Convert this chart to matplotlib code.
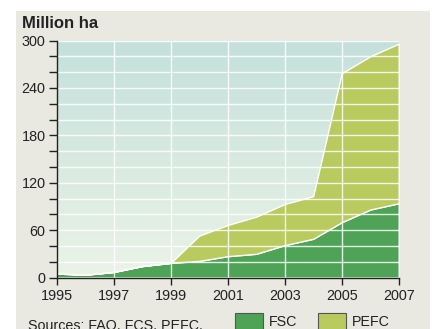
import matplotlib
matplotlib.use("Agg")
import matplotlib.pyplot as plt
import numpy as np
from matplotlib.patches import Rectangle

plt.rcParams['font.family'] = ['Liberation Sans', 'DejaVu Sans']

years = [1995, 1996, 1997, 1998, 1999, 2000, 2001, 2002, 2003, 2004, 2005, 2006, 2007]
fsc = [5, 3.5, 7, 14.5, 18.5, 21, 27, 30, 41, 49, 70, 86, 94]
pefc = [0, 0, 0, 0, 0, 32, 39.5, 47, 52, 54, 188.5, 194, 202]
series_names = ["FSC", "PEFC"]
xticks = [1995, 1997, 1999, 2001, 2003, 2005, 2007]
yticks = [0, 60, 120, 180, 240, 300]

c_fsc = "#4fa356"
c_pefc = "#b9cb5f"
panel_bg = "#e9e9e1"

W, H = 433, 329
fig = plt.figure(figsize=(W / 100, H / 100), dpi=100)
fig.patch.set_facecolor("white")

# beige panel behind everything
fig.patches.append(Rectangle((16 / W, 0), (430 - 16) / W, 1 - 11 / H,
                             transform=fig.transFigure, facecolor=panel_bg,
                             edgecolor="none", zorder=-10))

ax = fig.add_axes([56.7 / W, 51.5 / H, (398.7 - 56.7) / W, (277.5 - 40.5) / H])
ax.set_xlim(years[0], years[-1])
ax.set_ylim(0, 300)
ax.patch.set_alpha(0)

# vertical gradient background of the plotting area
grad = np.linspace(0, 1, 256).reshape(-1, 1)
top = np.array(matplotlib.colors.to_rgb("#c4e0db"))
bot = np.array(matplotlib.colors.to_rgb("#ebf3e7"))
img = top[None, None, :] * (1 - grad[..., None]) + bot[None, None, :] * grad[..., None]
ax.imshow(img, extent=[years[0], years[-1], 0, 300], aspect="auto",
          origin="upper", zorder=0)

ax.stackplot(years, fsc, pefc, colors=[c_fsc, c_pefc],
             edgecolor="white", linewidth=1.0, zorder=1)

# white grid drawn over the areas
for y in range(20, 301, 20):
    ax.axhline(y, color="white", lw=1.0, alpha=0.85, zorder=2)
for x in xticks[1:-1]:
    ax.axvline(x, color="white", lw=1.0, alpha=0.85, zorder=2)

for s in ["top", "right"]:
    ax.spines[s].set_visible(False)
for s in ["left", "bottom"]:
    ax.spines[s].set_color("#222222")
    ax.spines[s].set_linewidth(1.0)
    ax.spines[s].set_zorder(3)

ax.set_xticks(xticks)
ax.set_xticklabels([str(x) for x in xticks])
ax.set_yticks(yticks)
ax.set_yticks(range(0, 301, 20), minor=True)
ax.tick_params(axis="both", which="both", direction="out", color="#222222",
               width=1.0, labelsize=10.4, labelcolor="#222222")
ax.tick_params(axis="y", which="major", length=6, pad=2)
ax.tick_params(axis="y", which="minor", length=6)
ax.tick_params(axis="x", which="major", length=5, pad=3)

fig.text(22 / W, 1 - 23 / H, "Million ha", fontsize=12, fontweight="bold",
         color="#222222", ha="left", va="center")

fig.text(28.5 / W, -0.5 / H, "Sources: FAO, FCS, PEFC.", fontsize=10.3,
         color="#222222", ha="left", va="baseline")

# legend swatches
for x0, col, name in [(234.5, c_fsc, series_names[0]), (317.5, c_pefc, series_names[1])]:
    fig.patches.append(Rectangle((x0 / W, -0.01), 28 / W, (H - 312.7) / H + 0.01,
                                 transform=fig.transFigure, facecolor=col,
                                 edgecolor="#555555", linewidth=0.8))
    fig.text((x0 + 34.5) / W, (H - 326.3) / H, name, fontsize=10.3,
             color="#222222", ha="left", va="baseline")

fig.savefig("out.png", dpi=100, facecolor=fig.get_facecolor())
